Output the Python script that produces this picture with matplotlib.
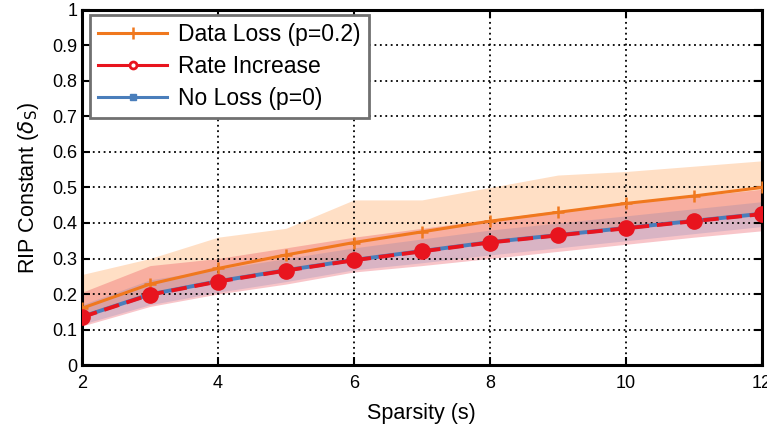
import numpy as np
import matplotlib.pyplot as plt

# sparsity levels and mean RIP constants
sparsity = [2, 3, 4, 5, 6, 7, 8, 9, 10, 11, 12]
data_loss = [0.160, 0.228, 0.272, 0.310, 0.345, 0.375, 0.405, 0.430, 0.455, 0.476, 0.500]
rate_increase = [0.135, 0.198, 0.235, 0.266, 0.295, 0.320, 0.345, 0.365, 0.385, 0.405, 0.425]
no_loss = [0.136, 0.199, 0.236, 0.267, 0.296, 0.321, 0.346, 0.366, 0.386, 0.406, 0.426]

# spread of the RIP constant across trials
data_loss_hi = [0.255, 0.300, 0.360, 0.385, 0.465, 0.465, 0.500, 0.535, 0.545, 0.560, 0.575]
data_loss_lo = [0.140, 0.205, 0.240, 0.268, 0.300, 0.324, 0.350, 0.370, 0.390, 0.410, 0.430]
rate_hi = [0.205, 0.280, 0.300, 0.330, 0.360, 0.385, 0.410, 0.435, 0.455, 0.475, 0.495]
rate_lo = [0.110, 0.165, 0.200, 0.228, 0.262, 0.280, 0.300, 0.320, 0.340, 0.360, 0.378]
no_loss_hi = [0.170, 0.240, 0.270, 0.300, 0.330, 0.355, 0.380, 0.400, 0.420, 0.440, 0.460]
no_loss_lo = [0.115, 0.170, 0.205, 0.235, 0.268, 0.288, 0.310, 0.330, 0.350, 0.370, 0.390]

orange = '#F0781E'
red = '#E8141E'
blue = '#4A7EBB'

plt.rcParams['font.family'] = ['Liberation Sans', 'DejaVu Sans']

fig = plt.figure(figsize=(7.67, 4.32), dpi=100)
ax = fig.add_axes([0.107, 0.155, 0.886, 0.822])

x = np.array(sparsity)
ax.fill_between(x, data_loss_lo, data_loss_hi, color='#FFB070', alpha=0.4, lw=0)
ax.fill_between(x, rate_lo, rate_hi, color='#E83040', alpha=0.28, lw=0)
ax.fill_between(x, no_loss_lo, no_loss_hi, color='#6070B0', alpha=0.2, lw=0)

ax.plot(x, data_loss, color=orange, lw=2.2, marker='+', ms=8, mew=1.8, zorder=3)
ax.plot(x, no_loss, color=blue, lw=2.8, marker='s', ms=5, zorder=3)
ax.plot(x, rate_increase, color=red, lw=2.8, ls=(0, (4, 2)), marker='o', ms=11,
        mfc=red, mec=red, zorder=4)

# legend entries: rate increase shown with a hollow marker
h_dl, = ax.plot([], [], color=orange, lw=2.2, marker='+', ms=8, mew=1.8)
h_ri, = ax.plot([], [], color=red, lw=2.2, marker='o', ms=5, mfc='white', mew=2)
h_nl, = ax.plot([], [], color=blue, lw=2.2, marker='s', ms=4)
leg = ax.legend([h_dl, h_ri, h_nl], ['Data Loss (p=0.2)', 'Rate Increase', 'No Loss (p=0)'],
                loc='upper left', bbox_to_anchor=(0.012, 0.985), fontsize=16.5,
                fancybox=False, framealpha=1, edgecolor='#707070',
                handlelength=3.0, handletextpad=0.5, borderpad=0.35,
                labelspacing=0.38, borderaxespad=0)
leg.get_frame().set_linewidth(2)

ax.set_xlim(2, 12)
ax.set_ylim(0, 1)
ax.set_xticks([2, 4, 6, 8, 10, 12])
ax.set_yticks(np.arange(0, 1.01, 0.1))
ax.set_yticklabels(['0', '0.1', '0.2', '0.3', '0.4', '0.5', '0.6', '0.7', '0.8', '0.9', '1'])
ax.grid(True, color='black', ls=(0, (1, 2)), lw=1.3)
ax.tick_params(direction='in', length=6, width=1.5, labelsize=13, top=True, right=True)
ax.tick_params(axis='x', pad=7)
for s in ax.spines.values():
    s.set_linewidth(2.2)

ax.set_xlabel('Sparsity (s)', fontsize=15.5, labelpad=8)
ax.set_ylabel(r'RIP Constant ($\delta_{\mathrm{S}}$)', fontsize=15.5, labelpad=8)

fig.savefig('out.png', dpi=100)
